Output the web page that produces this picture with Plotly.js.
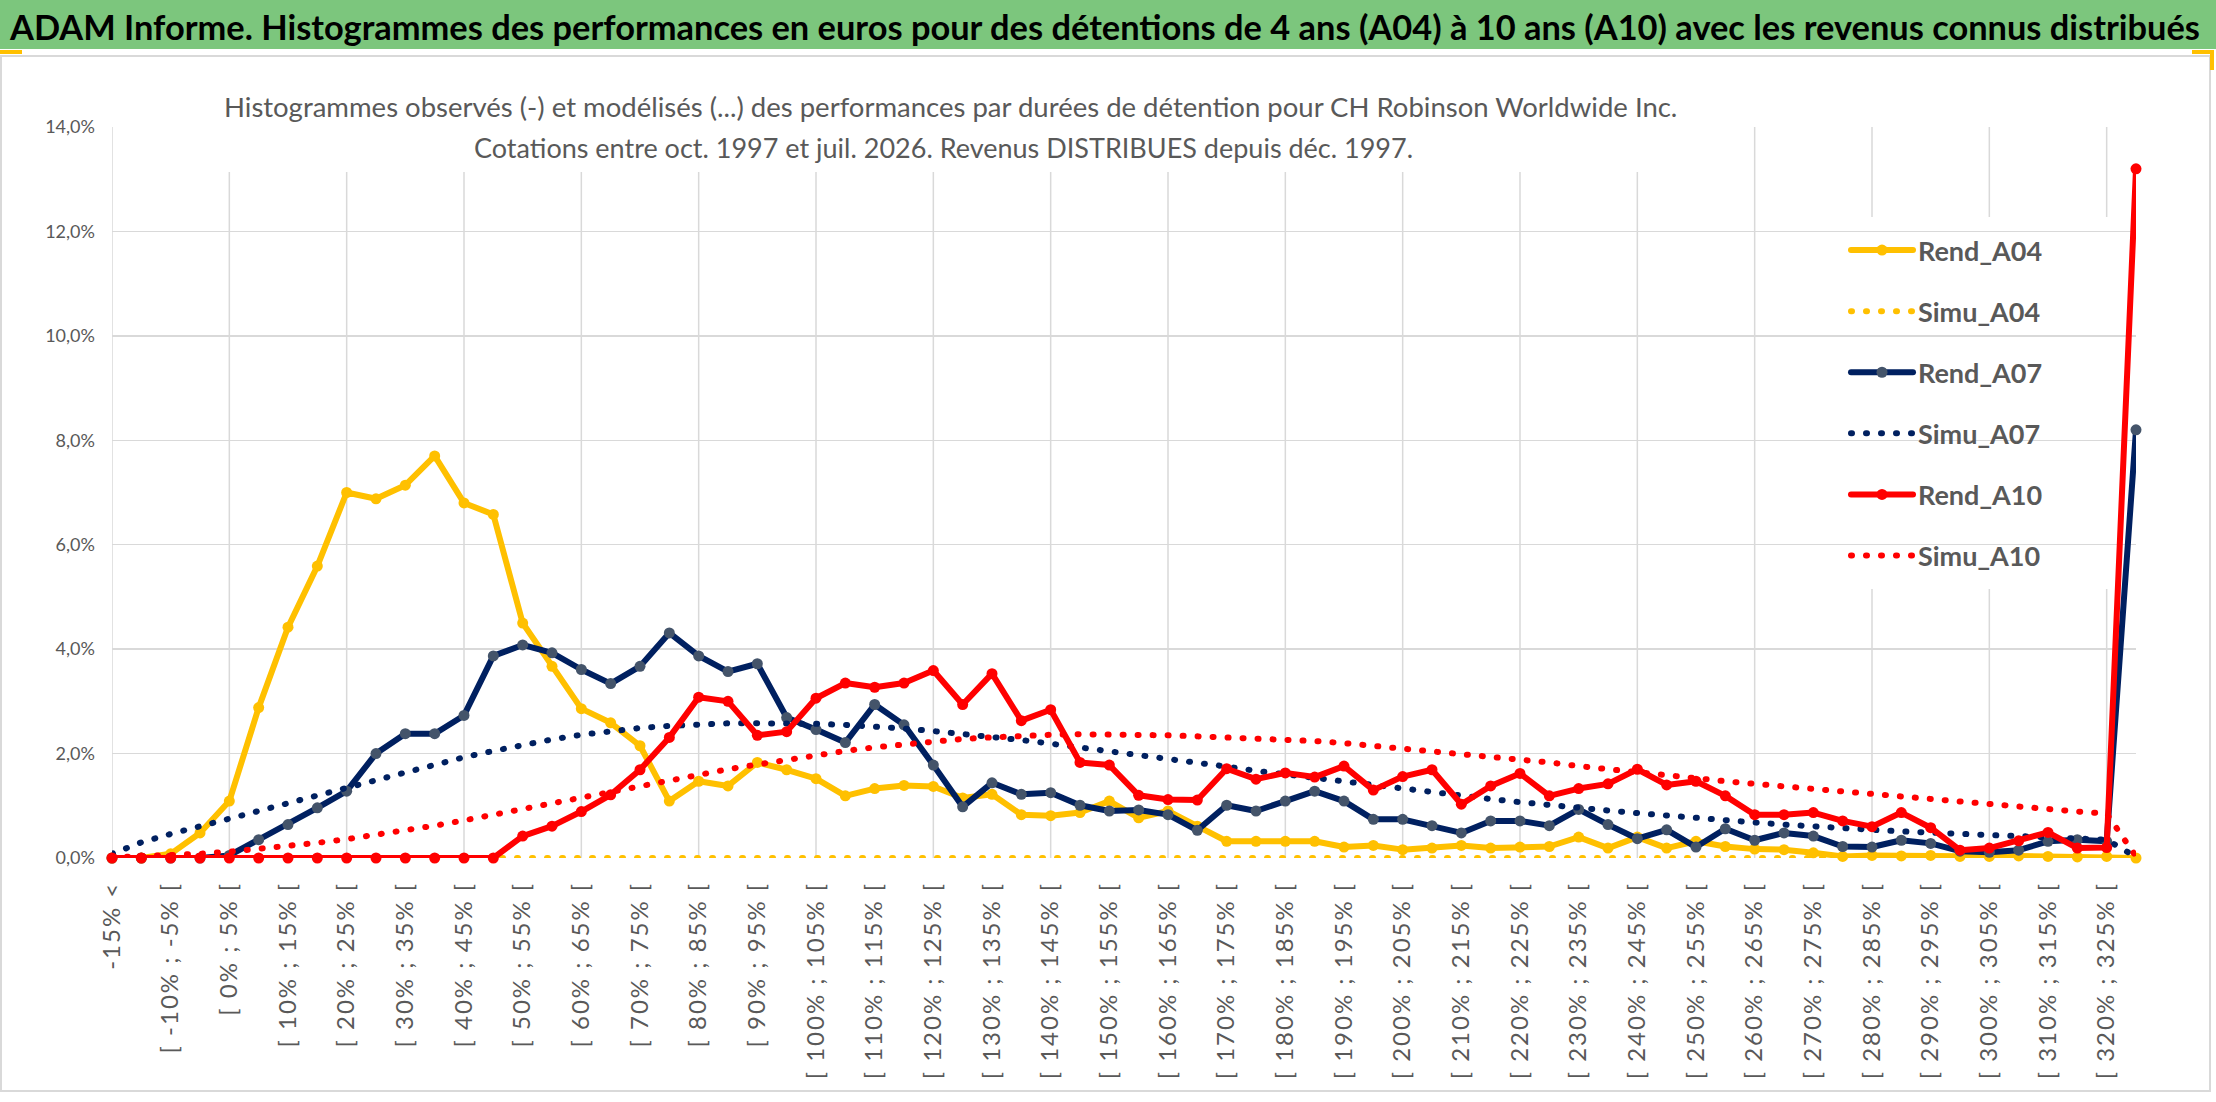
<!DOCTYPE html>
<html lang="fr">
<head>
<meta charset="utf-8">
<title>ADAM Informe - CH Robinson Worldwide Inc.</title>
<script src="https://cdn.plot.ly/plotly-3.0.1.min.js"></script>
<style>
  html, body { margin: 0; padding: 0; background: #fff; }
  #chart { width: 2216px; height: 1102px; }
  .scatterlayer .js-line, .legendlines path { stroke-linecap: round; stroke-linejoin: round; }
  .xtick text { letter-spacing: 2px; }
</style>
</head>
<body>
<div id="chart"></div>
<script>
/* ---------------------------- data ---------------------------- */

const CATEGORIES = [
  "-15% <", "[ -15% ; -10% [", "[ -10% ; -5% [", "[ -5% ; 0% [",
  "[ 0% ; 5% [", "[ 5% ; 10% [", "[ 10% ; 15% [", "[ 15% ; 20% [",
  "[ 20% ; 25% [", "[ 25% ; 30% [", "[ 30% ; 35% [", "[ 35% ; 40% [",
  "[ 40% ; 45% [", "[ 45% ; 50% [", "[ 50% ; 55% [", "[ 55% ; 60% [",
  "[ 60% ; 65% [", "[ 65% ; 70% [", "[ 70% ; 75% [", "[ 75% ; 80% [",
  "[ 80% ; 85% [", "[ 85% ; 90% [", "[ 90% ; 95% [", "[ 95% ; 100% [",
  "[ 100% ; 105% [", "[ 105% ; 110% [", "[ 110% ; 115% [", "[ 115% ; 120% [",
  "[ 120% ; 125% [", "[ 125% ; 130% [", "[ 130% ; 135% [", "[ 135% ; 140% [",
  "[ 140% ; 145% [", "[ 145% ; 150% [", "[ 150% ; 155% [", "[ 155% ; 160% [",
  "[ 160% ; 165% [", "[ 165% ; 170% [", "[ 170% ; 175% [", "[ 175% ; 180% [",
  "[ 180% ; 185% [", "[ 185% ; 190% [", "[ 190% ; 195% [", "[ 195% ; 200% [",
  "[ 200% ; 205% [", "[ 205% ; 210% [", "[ 210% ; 215% [", "[ 215% ; 220% [",
  "[ 220% ; 225% [", "[ 225% ; 230% [", "[ 230% ; 235% [", "[ 235% ; 240% [",
  "[ 240% ; 245% [", "[ 245% ; 250% [", "[ 250% ; 255% [", "[ 255% ; 260% [",
  "[ 260% ; 265% [", "[ 265% ; 270% [", "[ 270% ; 275% [", "[ 275% ; 280% [",
  "[ 280% ; 285% [", "[ 285% ; 290% [", "[ 290% ; 295% [", "[ 295% ; 300% [",
  "[ 300% ; 305% [", "[ 305% ; 310% [", "[ 310% ; 315% [", "[ 315% ; 320% [",
  "[ 320% ; 325% [", "> 325%"
];

// frequencies in % of holding periods
const REND_A04 = [
  0, 0, 0.08, 0.48, 1.09, 2.88, 4.42, 5.59, 7.0, 6.88,
  7.14, 7.7, 6.8, 6.58, 4.5, 3.67, 2.86, 2.59, 2.15, 1.09,
  1.47, 1.38, 1.83, 1.69, 1.52, 1.19, 1.33, 1.39, 1.37, 1.15,
  1.22, 0.83, 0.81, 0.87, 1.09, 0.77, 0.9, 0.61, 0.32, 0.32,
  0.32, 0.32, 0.21, 0.24, 0.16, 0.19, 0.24, 0.19, 0.21, 0.22,
  0.4, 0.19, 0.4, 0.19, 0.32, 0.22, 0.17, 0.16, 0.1, 0.03,
  0.05, 0.04, 0.05, 0.03, 0.03, 0.04, 0.03, 0.02, 0.03, 0
];
const SIMU_A04 = [
  0, 0, 0, 0, 0, 0, 0, 0, 0, 0,
  0, 0, 0, 0, 0, 0, 0, 0, 0, 0,
  0, 0, 0, 0, 0, 0, 0, 0, 0, 0,
  0, 0, 0, 0, 0, 0, 0, 0, 0, 0,
  0, 0, 0, 0, 0, 0, 0, 0, 0, 0,
  0, 0, 0, 0, 0, 0, 0, 0, 0, 0,
  0, 0, 0, 0, 0, 0, 0, 0, 0, 0
];
const REND_A07 = [
  0, 0, 0, 0, 0.05, 0.35, 0.64, 0.96, 1.28, 2.0,
  2.38, 2.38, 2.73, 3.87, 4.08, 3.93, 3.61, 3.34, 3.67, 4.31,
  3.87, 3.57, 3.72, 2.69, 2.46, 2.21, 2.94, 2.55, 1.78, 0.98,
  1.44, 1.22, 1.25, 1.01, 0.9, 0.92, 0.83, 0.53, 1.01, 0.9,
  1.09, 1.28, 1.09, 0.74, 0.74, 0.62, 0.48, 0.71, 0.71, 0.62,
  0.93, 0.64, 0.37, 0.54, 0.21, 0.56, 0.34, 0.48, 0.42, 0.22,
  0.21, 0.34, 0.28, 0.13, 0.11, 0.15, 0.32, 0.35, 0.32, 8.2
];
const SIMU_A07 = [
  0.08, 0.3, 0.46, 0.6, 0.75, 0.9, 1.05, 1.2, 1.34, 1.5,
  1.65, 1.8, 1.93, 2.05, 2.17, 2.27, 2.36, 2.43, 2.49, 2.53,
  2.56, 2.58, 2.58, 2.58, 2.57, 2.55, 2.52, 2.48, 2.43, 2.38,
  2.32, 2.26, 2.19, 2.12, 2.05, 1.97, 1.9, 1.82, 1.75, 1.67,
  1.6, 1.53, 1.46, 1.39, 1.33, 1.26, 1.19, 1.13, 1.07, 1.01,
  0.96, 0.91, 0.86, 0.81, 0.76, 0.72, 0.68, 0.64, 0.6, 0.57,
  0.54, 0.51, 0.48, 0.46, 0.44, 0.42, 0.4, 0.37, 0.35, 0.02
];
const REND_A10 = [
  0, 0, 0, 0, 0, 0, 0, 0, 0, 0,
  0, 0, 0, 0, 0.42, 0.61, 0.89, 1.21, 1.69, 2.31,
  3.08, 3.0, 2.35, 2.42, 3.06, 3.35, 3.27, 3.35, 3.59, 2.94,
  3.53, 2.63, 2.84, 1.83, 1.78, 1.2, 1.12, 1.11, 1.71, 1.51,
  1.63, 1.55, 1.76, 1.3, 1.56, 1.69, 1.03, 1.38, 1.62, 1.19,
  1.33, 1.42, 1.7, 1.4, 1.47, 1.19, 0.83, 0.83, 0.87, 0.71,
  0.6, 0.87, 0.58, 0.15, 0.19, 0.33, 0.49, 0.19, 0.2, 13.2
];
const SIMU_A10 = [
  0.01, 0.03, 0.05, 0.08, 0.12, 0.17, 0.23, 0.29, 0.36, 0.44,
  0.53, 0.62, 0.72, 0.83, 0.94, 1.05, 1.16, 1.27, 1.38, 1.49,
  1.6, 1.7, 1.79, 1.88, 1.97, 2.05, 2.12, 2.18, 2.23, 2.28,
  2.31, 2.34, 2.36, 2.37, 2.37, 2.36, 2.35, 2.33, 2.31, 2.29,
  2.27, 2.24, 2.2, 2.15, 2.1, 2.05, 2.0, 1.95, 1.89, 1.83,
  1.76, 1.7, 1.63, 1.58, 1.53, 1.47, 1.42, 1.37, 1.33, 1.28,
  1.23, 1.18, 1.13, 1.08, 1.03, 0.98, 0.93, 0.89, 0.85, 0.03
];

const Y_TICKS = [0, 2, 4, 6, 8, 10, 12, 14];
const Y_TICK_TEXT = ["0,0%", "2,0%", "4,0%", "6,0%", "8,0%", "10,0%", "12,0%", "14,0%"];

const TITLE = "ADAM Informe. Histogrammes des performances en euros pour des détentions de 4 ans (A04) à 10 ans (A10) avec les revenus connus distribués";
const SUBTITLE_1 = "Histogrammes observés (-) et modélisés (...) des performances par durées de détention pour CH Robinson Worldwide Inc.";
const SUBTITLE_2 = "Cotations entre oct. 1997 et juil. 2026. Revenus DISTRIBUES depuis déc. 1997.";

/* --------------------------- layout --------------------------- */

const FONT = "Lato, 'Open Sans', sans-serif";
const GREY_TEXT = "#595959";
const GRID = "#d9d9d9";

// pixel frame of the plot area inside the 2216 x 1102 figure
const FIG = { w: 2216, h: 1102 };
const PLOT = { left: 112, right: 2136, top: 127, bottom: 858 };
const px = (x) => (x - PLOT.left) / (PLOT.right - PLOT.left);
const py = (y) => (PLOT.bottom - y) / (PLOT.bottom - PLOT.top);

const idx = CATEGORIES.map((_, i) => i);
const labelIdx = idx.filter((i) => i % 2 === 0);
const gridIdx = idx.filter((i) => i % 4 === 0);

function rendTrace(name, values, color, markerColor) {
  return {
    type: "scatter",
    mode: "lines+markers",
    name: name,
    legendgroup: name,
    x: idx,
    y: values,
    line: { color: color, width: 6 },
    marker: { color: markerColor, size: 11 },
    cliponaxis: false,
    hoverinfo: "skip",
  };
}

function simuTrace(name, values, color) {
  return {
    type: "scatter",
    mode: "lines",
    name: name,
    legendgroup: name,
    x: idx,
    y: values,
    line: { color: color, width: 6, dash: "1px,14px" },
    cliponaxis: false,
    hoverinfo: "skip",
  };
}

const traces = [
  rendTrace("Rend_A04", REND_A04, "#FFC000", "#FFC000"),
  simuTrace("Simu_A04", SIMU_A04, "#FFC000"),
  rendTrace("Rend_A07", REND_A07, "#002060", "#44546A"),
  simuTrace("Simu_A07", SIMU_A07, "#002060"),
  rendTrace("Rend_A10", REND_A10, "#FF0000", "#FF0000"),
  simuTrace("Simu_A10", SIMU_A10, "#FF0000"),
];

function paperRect(x0, y0, x1, y1, style) {
  return Object.assign(
    { type: "rect", xref: "paper", yref: "paper", x0: px(x0), x1: px(x1), y0: py(y1), y1: py(y0) },
    style
  );
}

const shapes = [];
// vertical gridlines every 4 classes
gridIdx.forEach((i) => {
  shapes.push({
    type: "line", xref: "x", yref: "paper", x0: i, x1: i, y0: 0, y1: 1,
    line: { color: GRID, width: 1.5 }, layer: "below",
  });
});
// white boxes behind subtitle and legend (hide the grid like Excel does)
shapes.push(paperRect(210, 118, 1690, 172, { fillcolor: "#fff", line: { width: 0 }, layer: "below" }));
shapes.push(paperRect(1780, 217, 2112, 589, { fillcolor: "#fff", line: { width: 0 }, layer: "below" }));
// green title band + chart frame
shapes.push(paperRect(0, 0, FIG.w, 49, { fillcolor: "#7CC67D", line: { width: 0 }, layer: "above" }));
shapes.push(paperRect(1, 56, 2210, 1091, { fillcolor: "rgba(0,0,0,0)", line: { color: GRID, width: 2 }, layer: "above" }));
// excel cell-selection marks
shapes.push(paperRect(0, 50, 22, 54, { fillcolor: "#FFC000", line: { width: 0 }, layer: "above" }));
shapes.push(paperRect(2192, 50, 2214, 54, { fillcolor: "#FFC000", line: { width: 0 }, layer: "above" }));
shapes.push(paperRect(2210, 50, 2214, 70, { fillcolor: "#FFC000", line: { width: 0 }, layer: "above" }));

const annotations = [
  {
    xref: "paper", yref: "paper", x: px(1104), y: py(26), xanchor: "center", yanchor: "middle",
    text: "<b>" + TITLE + "</b>", showarrow: false,
    font: { family: FONT, size: 34.4, color: "#000" },
  },
  {
    xref: "paper", yref: "paper", x: px(950), y: py(106), xanchor: "center", yanchor: "middle",
    text: SUBTITLE_1, showarrow: false,
    font: { family: FONT, size: 27.5, color: GREY_TEXT },
  },
  {
    xref: "paper", yref: "paper", x: px(943), y: py(147), xanchor: "center", yanchor: "middle",
    text: SUBTITLE_2, showarrow: false,
    font: { family: FONT, size: 27, color: GREY_TEXT },
  },
];

const layout = {
  width: FIG.w,
  height: FIG.h,
  paper_bgcolor: "#fff",
  plot_bgcolor: "#fff",
  separators: ", ",
  font: { family: FONT, color: GREY_TEXT },
  margin: { l: PLOT.left, r: FIG.w - PLOT.right, t: PLOT.top, b: FIG.h - PLOT.bottom, pad: 0 },
  showlegend: true,
  legend: {
    x: px(1846), xanchor: "left",
    y: py(226), yanchor: "top",
    bgcolor: "rgba(0,0,0,0)",
    font: { family: FONT, size: 27, color: GREY_TEXT, weight: 700 },
    tracegroupgap: 23,
    itemwidth: 62,
  },
  xaxis: {
    range: [0, CATEGORIES.length - 1],
    tickmode: "array",
    tickvals: labelIdx,
    ticktext: labelIdx.map((i) => CATEGORIES[i]),
    tickangle: -90,
    ticks: "",
    showgrid: false,
    zeroline: false,
    showline: false,
    ticklabelstandoff: 18,
    tickfont: { family: FONT, size: 24, color: GREY_TEXT },
    fixedrange: true,
  },
  yaxis: {
    range: [0, 14],
    tickmode: "array",
    tickvals: Y_TICKS,
    ticktext: Y_TICK_TEXT,
    ticks: "",
    showgrid: true,
    gridcolor: GRID,
    gridwidth: 1.5,
    zeroline: false,
    showline: false,
    ticklabelstandoff: 16,
    tickfont: { family: FONT, size: 18, color: GREY_TEXT },
    fixedrange: true,
  },
  shapes: shapes,
  annotations: annotations,
};

Plotly.newPlot("chart", traces, layout, { displayModeBar: false, staticPlot: true });
</script>
</body>
</html>
